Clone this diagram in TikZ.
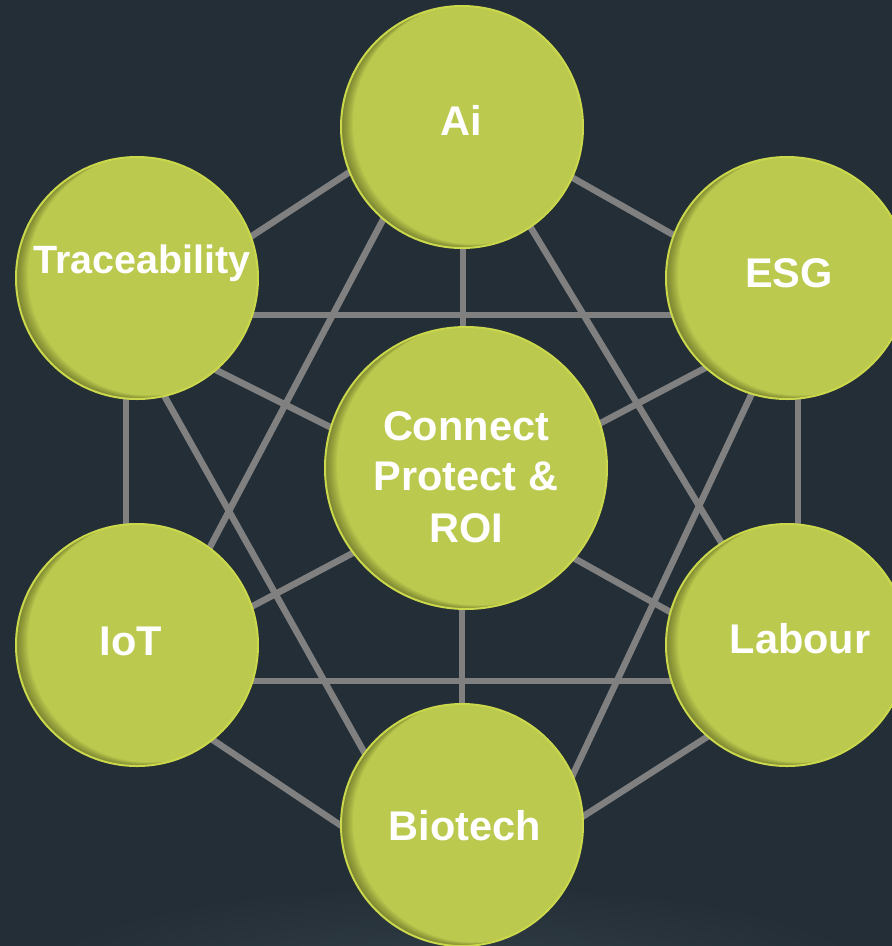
\documentclass[tikz,border=0pt]{standalone}
\usepackage{fontspec}
\setmainfont{Liberation Sans}
\usetikzlibrary{calc}
\definecolor{bgdark}{RGB}{35,46,54}
\definecolor{bgglow}{RGB}{50,62,70}
\definecolor{ballgreen}{RGB}{187,201,78}
\definecolor{rimgreen}{RGB}{203,216,76}
\definecolor{linkgray}{RGB}{128,128,128}
\pgfdeclarelayer{bglayer}
\pgfdeclarelayer{linklayer}
\pgfsetlayers{bglayer,linklayer,main}
\tikzset{
  bubble/.style={circle, fill=ballgreen, draw=rimgreen, line width=2pt,
    minimum size=2*#1, inner sep=0pt,
    path picture={
      \foreach \d in {1,...,12}{
        \fill[black, opacity=0.032, even odd rule]
          (path picture bounding box.center) circle[radius=#1]
          ([xshift=\d pt, yshift=0.3*\d pt]path picture bounding box.center) circle[radius=#1];
      }
    }},
  link/.style={draw=linkgray, line width=6.5pt},
  lbl/.style={anchor=base, inner sep=0pt, text=white,
    font=\bfseries\fontsize{41.5}{50}\selectfont},
  lblsmall/.style={lbl, font=\bfseries\fontsize{39.5}{48}\selectfont}
}
\begin{document}
\begin{tikzpicture}[x=1pt,y=-1pt]
\useasboundingbox (0,0) rectangle (892,946);
\begin{pgfonlayer}{bglayer}
  \fill[bgdark] (0,0) rectangle (892,946);
  \shade[inner color=bgglow, outer color=bgdark] (455,975) ellipse [x radius=420, y radius=90];
\end{pgfonlayer}

% circles
\node[bubble=121] (ai) at (462,127) {};
\node[bubble=121] (trace) at (137,278) {};
\node[bubble=121] (esg) at (787,278) {};
\node[bubble=121] (iot) at (137,645) {};
\node[bubble=121] (labour) at (787,645) {};
\node[bubble=121] (bio) at (462,825) {};
\node[bubble=141] (ctr) at (466,468) {};

% labels
\node[lbl] (ait) at (461,135) {Ai};
\node[lblsmall] (tracet) at (142,273) {Traceability};
\node[lbl] (esgt) at (789,287) {ESG};
\node[lbl] (iott) at (131,655) {IoT};
\node[lbl] (labourt) at (800,653) {Labour};
\node[lbl] (biot) at (465,840) {Biotech};
\node[lbl] (ctrta) at (466,440) {Connect};
\node[lbl] (ctrtb) at (466,490) {Protect \&};
\node[lbl] (ctrtc) at (466,542) {ROI};

% connectors
\begin{pgfonlayer}{linklayer}
  \draw[link] ($(ai.center)+(-62,12)$) -- ($(trace.center)+(63,-8)$);
  \draw[link] ($(ai.center)+(58,21)$) -- ($(esg.center)+(-57,-11)$);
  \draw[link] ($(ai.center)+(1,73)$) -- ($(ctr.center)+(-3,-68)$);
  \draw[link] ($(ai.center)+(-58,53)$) -- ($(iot.center)+(45,-45)$);
  \draw[link] ($(ai.center)+(40,53)$) -- ($(labour.center)+(-31,-45)$);
  \draw[link] ($(trace.center)+(63,37)$) -- ($(esg.center)+(-67,37)$);
  \draw[link] ($(trace.center)+(-11,72)$) -- ($(iot.center)+(-11,-85)$);
  \draw[link] ($(trace.center)+(43,74)$) -- ($(ctr.center)+(-66,-6)$);
  \draw[link] ($(trace.center)+(-4,62)$) -- ($(bio.center)+(-71,-25)$);
  \draw[link] ($(esg.center)+(-42,69)$) -- ($(ctr.center)+(74,-13)$);
  \draw[link] ($(esg.center)+(11,72)$) -- ($(labour.center)+(11,-85)$);
  \draw[link] ($(esg.center)+(-10,62)$) -- ($(bio.center)+(99,-25)$);
  \draw[link] ($(iot.center)+(63,-11)$) -- ($(ctr.center)+(-66,60)$);
  \draw[link] ($(iot.center)+(63,36)$) -- ($(labour.center)+(-67,36)$);
  \draw[link] ($(iot.center)+(43,73)$) -- ($(bio.center)+(-62,40)$);
  \draw[link] ($(labour.center)+(-47,6)$) -- ($(ctr.center)+(54,60)$);
  \draw[link] ($(labour.center)+(-27,58)$) -- ($(bio.center)+(78,19)$);
  \draw[link] ($(bio.center)+(0,-65)$) -- ($(ctr.center)+(-4,92)$);
\end{pgfonlayer}
\end{tikzpicture}
\end{document}
